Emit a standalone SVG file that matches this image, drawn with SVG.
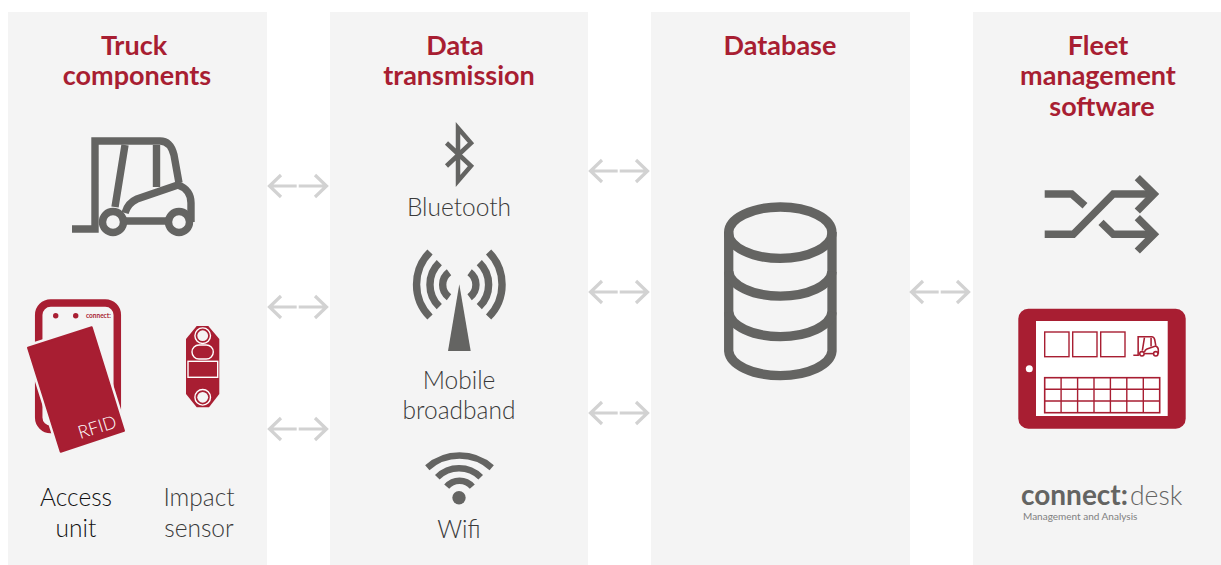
<svg xmlns="http://www.w3.org/2000/svg" xmlns:xlink="http://www.w3.org/1999/xlink" width="1221" height="565" viewBox="0 0 1221 565">
<style>
.panel{fill:#f4f4f4}
.title{font:700 27px "Lato","Liberation Sans",sans-serif;fill:#a81e32;text-anchor:middle}
.label{font:300 24.500px "Lato","Liberation Sans",sans-serif;fill:#3a3a3a;text-anchor:middle}
.line{fill:none;stroke:#646462;stroke-width:7.4}
.ink{fill:#646462}
.red{fill:#a81e32}
.wl{stroke:#fff;stroke-width:1.4;fill:none}
.rl{fill:none;stroke:#a81e32;stroke-width:1.4}
.conn{fill:none;stroke:#d2d2d2;stroke-width:3.2}
</style>
<defs>
<g id="twoway">
<path d="M296.7,186H270M281,175l-11.500,11l11.500,11"/>
<path d="M298.700,186H326M315,175l11.500,11l-11.500,11"/>
</g>
<g id="truck">
<path d="M72,229H95V141H160C168,141 172,147 174,155L179,183"/>
<path d="M125,145L115,207M156.500,145V187"/>
<path d="M125,213C127,206 130,202 137,199L178,185C187,188 191,195 191,203V222"/>
<path d="M124,221H168"/>
<circle cx="113" cy="222" r="10.500"/>
<circle cx="179" cy="222" r="10.500"/>
</g>
</defs>
<rect width="1221" height="565" fill="#fff"/>
<g id="panels">
<rect class="panel" x="8" y="12" width="259" height="553"/>
<rect class="panel" x="330" y="12" width="258" height="553"/>
<rect class="panel" x="651" y="12" width="259" height="553"/>
<rect class="panel" x="973" y="12" width="248" height="553"/>
</g>
<g id="connectors" class="conn">
<use xlink:href="#twoway" href="#twoway"/>
<use xlink:href="#twoway" href="#twoway" y="121"/>
<use xlink:href="#twoway" href="#twoway" y="243"/>
<use xlink:href="#twoway" href="#twoway" x="321" y="-15"/>
<use xlink:href="#twoway" href="#twoway" x="321" y="106"/>
<use xlink:href="#twoway" href="#twoway" x="321" y="227"/>
<use xlink:href="#twoway" href="#twoway" x="642" y="106"/>
</g>
<g id="truck-components">
<text class="title" x="134" y="55">Truck</text>
<text class="title" x="137" y="85">components</text>
<g class="line"><use xlink:href="#truck" href="#truck"/></g>
</g>
<g id="access-unit">
<rect x="38.700" y="303" width="78.600" height="126.500" rx="12" fill="none" stroke="#a81e32" stroke-width="7.500"/>
<circle class="red" cx="55.700" cy="315.700" r="2.700"/>
<circle class="red" cx="75.700" cy="315.700" r="2.700"/>
<text x="86" y="318" font-family="Lato, Liberation Sans, sans-serif" font-size="6.500" font-weight="700" fill="#a81e32">connect:</text>
<path class="red" d="M28,347.700L91.700,327.300L124,430.700L60.700,451.700Z" stroke="#f4f4f4" stroke-width="7" paint-order="stroke" stroke-linejoin="round"/>
<path class="red" d="M28,347.700L91.700,327.300L124,430.700L60.700,451.700Z" stroke="#a81e32" stroke-width="2" stroke-linejoin="round"/>
<text transform="translate(99,433) rotate(-17.500)" font-family="Lato, Liberation Sans, sans-serif" font-size="18" font-weight="300" fill="#fff" text-anchor="middle">RFID</text>
<text class="label" x="76" y="506" style="fill:#111">Access</text>
<text class="label" x="76" y="537" style="fill:#111">unit</text>
</g>
<g id="impact-sensor">
<path class="red" d="M196.700,326H208.300L219.300,339V394L209,407.300H196.700L186,394V339Z"/>
<circle cx="202.700" cy="335.700" r="7.800" class="wl"/>
<circle cx="202.700" cy="335.700" r="5.400" fill="#f4f4f4"/>
<circle cx="202.700" cy="397.300" r="7.800" class="wl"/>
<circle cx="202.700" cy="397.300" r="5.400" fill="#f4f4f4"/>
<rect x="192" y="345" width="21.300" height="14" rx="7" class="wl"/>
<rect x="188" y="361.300" width="29.700" height="16" class="wl"/>
<text class="label" x="199" y="506">Impact</text>
<text class="label" x="199" y="537">sensor</text>
</g>
<g id="data-transmission">
<text class="title" x="455" y="55">Data</text>
<text class="title" x="459" y="85">transmission</text>
</g>
<g id="bluetooth">
<path d="M446.500,143L471,166L458,181V128L471,143L446.500,166" fill="none" stroke="#646462" stroke-width="4.500"/>
<text class="label" x="459" y="216">Bluetooth</text>
</g>
<g id="mobile-broadband">
<path class="ink" d="M459.300,284.300L470.700,351H448Z"/>
<g class="line">
<path d="M430,252A46,46 0 0 0 430,317M439.300,262.700A30.600,30.600 0 0 0 439.300,306.700M449,272.300A15.500,15.500 0 0 0 449,297.300"/>
<path d="M488.600,252A46,46 0 0 1 488.600,317M479.300,262.700A30.600,30.600 0 0 1 479.300,306.700M469.600,272.300A15.500,15.500 0 0 1 469.600,297.300"/>
</g>
<text class="label" x="459" y="389">Mobile</text>
<text class="label" x="459" y="419">broadband</text>
</g>
<g id="wifi">
<g class="line" style="stroke-width:6.500">
<path d="M427.300,467.700A48.700,48.700 0 0 1 491.700,467.700M437.300,477.300A30.600,30.600 0 0 1 480.700,477.300M446.700,486.700A16.700,16.700 0 0 1 472.300,486.700"/>
</g>
<circle class="ink" cx="459" cy="497.700" r="6.700"/>
<text class="label" x="459" y="538">Wifi</text>
</g>
<g id="database">
<text class="title" x="780" y="55">Database</text>
<g class="line" style="stroke-width:9.300">
<ellipse cx="780.300" cy="232.700" rx="51.700" ry="25.700"/>
<path d="M728.700,232V351A51.700,25.700 0 0 0 832,351V232"/>
<path d="M728.700,271.500A51.700,25.700 0 0 0 832,271.500M728.700,312A51.700,25.700 0 0 0 832,312"/>
</g>
</g>
<g id="fleet-management-software">
<text class="title" x="1098" y="55">Fleet</text>
<text class="title" x="1098" y="85">management</text>
<text class="title" x="1102" y="116">software</text>
</g>
<g id="shuffle" class="line">
<path d="M1044.700,194H1071.700L1085,205.700"/>
<path d="M1044.700,234.300H1073.300L1113.300,194H1155"/>
<path d="M1101,222.300L1113.300,234.300H1155"/>
<path d="M1137.300,177.700L1154,194L1137.300,211"/>
<path d="M1137.300,217.700L1154,234.300L1137.300,251"/>
</g>
<g id="tablet">
<rect class="red" x="1018.300" y="308.700" width="167.400" height="120" rx="10"/>
<rect x="1036" y="321" width="131.700" height="95" fill="#fff"/>
<circle cx="1029.300" cy="368.700" r="3.500" fill="#fff"/>
<rect class="rl" x="1044.700" y="332" width="24.300" height="24.700"/>
<rect class="rl" x="1072.700" y="332" width="24.300" height="24.700"/>
<rect class="rl" x="1100.700" y="332" width="24.300" height="24.700"/>
<g transform="translate(1118.200,307.200) scale(.21)" fill="none" stroke="#a81e32" stroke-width="7.400"><use xlink:href="#truck" href="#truck"/></g>
<rect class="rl" x="1044.700" y="377.700" width="115" height="35" style="stroke-width:1.600"/>
<path class="rl" d="M1044.700,389.300H1159.700M1044.700,401H1159.700M1061.100,377.700V412.700M1077.600,377.700V412.700M1094,377.700V412.700M1110.400,377.700V412.700M1126.800,377.700V412.700M1143.300,377.700V412.700"/>
</g>
<g id="connect-desk">
<text x="1021" y="505" font-family="Lato, Liberation Sans, sans-serif" font-size="28" font-weight="700" fill="#646462">connect:</text>
<text x="1130" y="505" font-family="Lato, Liberation Sans, sans-serif" font-size="26.500" font-weight="300" fill="#646462">desk</text>
<text x="1023" y="520" font-family="Lato, Liberation Sans, sans-serif" font-size="10" font-weight="400" fill="#808080">Management and Analysis</text>
</g>
</svg>
